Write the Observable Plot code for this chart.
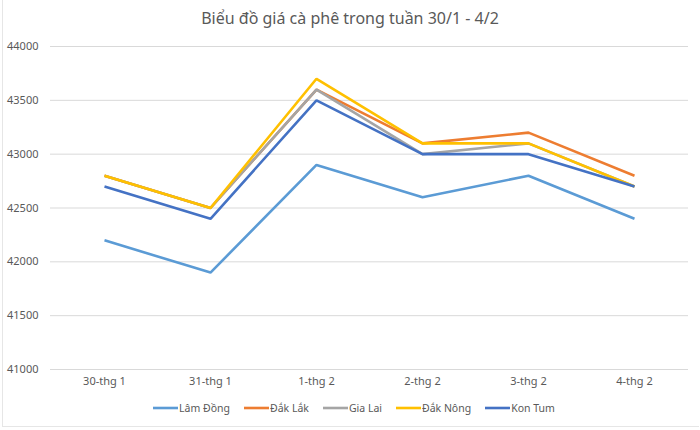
<!DOCTYPE html>
<html>
<head>
<meta charset="utf-8">
<script src="https://cdn.jsdelivr.net/npm/d3@7"></script>
<script src="https://cdn.jsdelivr.net/npm/@observablehq/plot@0.6"></script>
<style>
  html, body { margin: 0; padding: 0; background: #fff; }
  body { width: 700px; height: 430px; overflow: hidden; font-family: "Noto Sans", "Open Sans", sans-serif; position: relative; }
  #title { height: 34px; line-height: 36px; text-align: center; font-size: 16px; color: #595959; }
  #legend { display: flex; justify-content: center; gap: 14px; font-size: 10.5px; color: #595959; margin-top: 7px; padding-left: 8px; }
  #legend .item { display: flex; align-items: center; gap: 1px; }
  #frame { position: absolute; left: 2px; top: 0; width: 696px; height: 426px; border-left: 1px solid #e6e6e6; border-bottom: 1px solid #e6e6e6; pointer-events: none; }
</style>
</head>
<body>
<div id="frame"></div>
<div id="title">Biểu đồ giá cà phê trong tuần 30/1 - 4/2</div>
<div id="chart"></div>
<div id="legend"></div>
<script>
const days = ["30-thg 1", "31-thg 1", "1-thg 2", "2-thg 2", "3-thg 2", "4-thg 2"];
const seriesNames = ["Lâm Đồng", "Đắk Lắk", "Gia Lai", "Đắk Nông", "Kon Tum"];
const lamDong = [42200, 41900, 42900, 42600, 42800, 42400];
const dakLak  = [42800, 42500, 43600, 43100, 43200, 42800];
const giaLai  = [42800, 42500, 43600, 43000, 43100, 42700];
const dakNong = [42800, 42500, 43700, 43100, 43100, 42700];
const konTum  = [42700, 42400, 43500, 43000, 43000, 42700];
const yTicks = [41000, 41500, 42000, 42500, 43000, 43500, 44000];
const colors = ["#5B9BD5", "#ED7D31", "#A5A5A5", "#FFC000", "#4472C4"];

const allValues = [lamDong, dakLak, giaLai, dakNong, konTum];
const data = [];
seriesNames.forEach((name, i) => {
  days.forEach((d, j) => data.push({series: name, day: d, value: allValues[i][j]}));
});

const chart = Plot.plot({
  width: 700,
  height: 360,
  marginTop: 12,
  marginBottom: 25,
  marginLeft: 50,
  marginRight: 12,
  style: {fontFamily: '"Noto Sans", sans-serif', fontSize: "11px", color: "#595959"},
  x: {type: "point", domain: days, padding: 0.5, label: null, tickSize: 0, tickPadding: 8},
  y: {domain: [41000, 44000], ticks: yTicks, label: null, tickSize: 0, tickPadding: 12},
  color: {domain: seriesNames, range: colors},
  marks: [
    Plot.gridY(yTicks.filter(t => t > 41000), {stroke: "#d9d9d9", strokeOpacity: 1, strokeWidth: 1}),
    Plot.ruleY([41000], {stroke: "#d9d9d9", strokeWidth: 1}),
    Plot.axisY({ticks: yTicks, tickSize: 0, tickPadding: 12, tickFormat: d => String(d), fill: "#595959"}),
    Plot.axisX({tickSize: 0, tickPadding: 8, fill: "#595959"}),
    Plot.line(data, {x: "day", y: "value", z: "series", stroke: "series", strokeWidth: 2.6, strokeLinejoin: "miter", strokeLinecap: "butt"})
  ]
});
document.getElementById("chart").appendChild(chart);

const legend = document.getElementById("legend");
seriesNames.forEach((name, i) => {
  const item = document.createElement("div");
  item.className = "item";
  item.innerHTML = `<svg width="25" height="10"><line x1="0" x2="25" y1="5" y2="5" stroke="${colors[i]}" stroke-width="2.6"/></svg><span>${name}</span>`;
  legend.appendChild(item);
});
</script>
</body>
</html>
